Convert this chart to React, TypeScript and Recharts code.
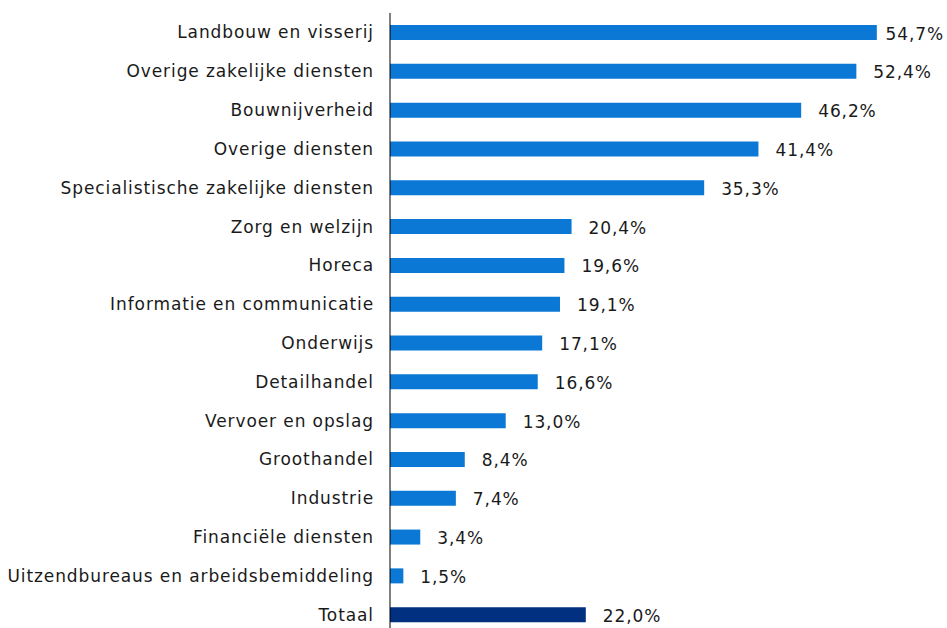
import { Bar, BarChart, Cell, LabelList, XAxis, YAxis } from "recharts";

const categories = [
  "Landbouw en visserij",
  "Overige zakelijke diensten",
  "Bouwnijverheid",
  "Overige diensten",
  "Specialistische zakelijke diensten",
  "Zorg en welzijn",
  "Horeca",
  "Informatie en communicatie",
  "Onderwijs",
  "Detailhandel",
  "Vervoer en opslag",
  "Groothandel",
  "Industrie",
  "Financiële diensten",
  "Uitzendbureaus en arbeidsbemiddeling",
  "Totaal",
];

const values = [
  54.7, 52.4, 46.2, 41.4, 35.3, 20.4, 19.6, 19.1, 17.1, 16.6, 13.0, 8.4, 7.4,
  3.4, 1.5, 22.0,
];

const data = categories.map((name, i) => ({ name, value: values[i] }));

const FONT = "'DejaVu Sans', Verdana, sans-serif";
const SIZE = 17;
const SPACING = 0.9;
const BLUE = "#0a78d4";
const NAVY = "#00307f";

const fmt = (v: number) => `${v.toFixed(1).replace(".", ",")}%`;

function ValueLabel(props: any) {
  const { x, y, width, height, value } = props;
  let tx = x + width + 17;
  let anchor: "start" | "end" = "start";
  if (tx + 60 > 943) {
    tx = 944;
    anchor = "end";
  }
  return (
    <text
      x={tx}
      y={y + height / 2 + 1}
      textAnchor={anchor}
      dominantBaseline="central"
      fontFamily={FONT}
      fontSize={SIZE}
      letterSpacing={SPACING}
      fill="#1a1a1a"
    >
      {fmt(value)}
    </text>
  );
}

export default function App() {
  return (
    <div
      style={{
        position: "fixed",
        left: 0,
        top: 0,
        width: 947,
        height: 628,
        overflow: "hidden",
        background: "#fff",
      }}
    >
      <BarChart
        width={947}
        height={640}
        data={data}
        layout="vertical"
        margin={{ top: 13, right: 23, bottom: 6, left: 0 }}
      >
        <XAxis type="number" domain={[0, 60]} hide />
        <YAxis
          type="category"
          dataKey="name"
          width={390}
          tickLine={false}
          axisLine={{ stroke: "#000", strokeWidth: 1 }}
          tickMargin={10}
          interval={0}
          tick={{
            fontFamily: FONT,
            fontSize: SIZE,
            fill: "#1a1a1a",
            letterSpacing: SPACING,
          }}
        />
        <Bar dataKey="value" barSize={15} isAnimationActive={false}>
          {data.map((d) => (
            <Cell key={d.name} fill={d.name === "Totaal" ? NAVY : BLUE} />
          ))}
          <LabelList dataKey="value" content={ValueLabel} />
        </Bar>
      </BarChart>
    </div>
  );
}
